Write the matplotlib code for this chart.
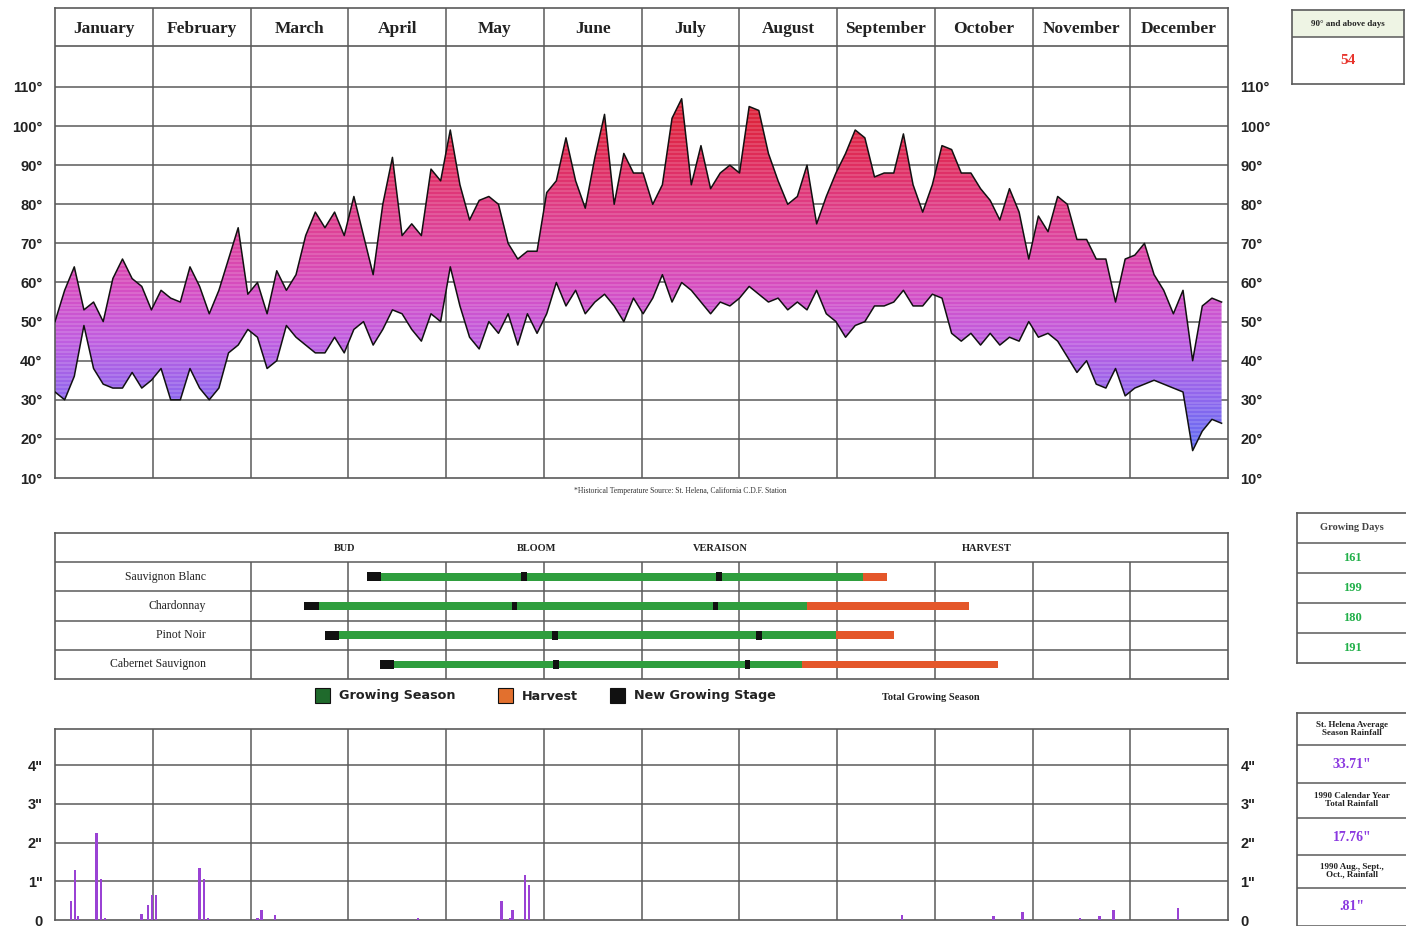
import numpy as np
import matplotlib.pyplot as plt
from matplotlib.colors import LinearSegmentedColormap
from matplotlib.patches import Rectangle

# ---- data ----
months = ['January', 'February', 'March', 'April', 'May', 'June', 'July',
          'August', 'September', 'October', 'November', 'December']

# daily max / min temperature, read every 3rd day of 1990
temp_days = np.arange(0, 366, 3)
high_temps = [50, 58, 64, 53, 55, 50, 61, 66, 61, 59, 53,
              58, 56, 55, 64, 59, 52, 58, 66, 74, 57,
              60, 52, 63, 58, 62, 72, 78, 74, 78, 72,
              82, 72, 62, 80, 92, 72, 75, 72, 89, 86,
              99, 85, 76, 81, 82, 80, 70, 66, 68, 68,
              83, 86, 97, 86, 79, 92, 103, 80, 93, 88,
              88, 80, 85, 102, 107, 85, 95, 84, 88, 90,
              88, 105, 104, 93, 86, 80, 82, 90, 75, 82,
              88, 93, 99, 97, 87, 88, 88, 98, 85, 78,
              85, 95, 94, 88, 88, 84, 81, 76, 84, 78,
              66, 77, 73, 82, 80, 71, 71, 66, 66, 55,
              66, 67, 70, 62, 58, 52, 58, 40, 54, 56, 55]
low_temps = [32, 30, 36, 49, 38, 34, 33, 33, 37, 33, 35,
             38, 30, 30, 38, 33, 30, 33, 42, 44, 48,
             46, 38, 40, 49, 46, 44, 42, 42, 46, 42,
             48, 50, 44, 48, 53, 52, 48, 45, 52, 50,
             64, 54, 46, 43, 50, 47, 52, 44, 52, 47,
             52, 60, 54, 58, 52, 55, 57, 54, 50, 56,
             52, 56, 62, 55, 60, 58, 55, 52, 55, 54,
             56, 59, 57, 55, 56, 53, 55, 53, 58, 52,
             50, 46, 49, 50, 54, 54, 55, 58, 54, 54,
             57, 56, 47, 45, 47, 44, 47, 44, 46, 45,
             50, 46, 47, 45, 41, 37, 40, 34, 33, 38,
             31, 33, 34, 35, 34, 33, 32, 17, 22, 25, 24]
temp_ticks = [10, 20, 30, 40, 50, 60, 70, 80, 90, 100, 110]

# growing stages (day of year)
varieties = ['Sauvignon Blanc', 'Chardonnay', 'Pinot Noir', 'Cabernet Sauvignon']
bud_break = [97, 77.5, 84, 101]
bloom = [146, 143, 155.5, 156]
veraison = [206.5, 205.5, 219, 215.5]
harvest_start = [251.5, 234, 243, 232.5]
harvest_end = [259, 284.5, 261, 293.5]
growing_days = [161, 199, 180, 191]
stages = ['BUD', 'BLOOM', 'VERAISON', 'HARVEST']
stage_days = [90, 150, 207, 290]

# daily rainfall (inches)
rain_days = [5, 6.2, 7.2, 13, 14.3, 15.6, 27, 29, 30.2, 31.4, 45, 46.4, 47.6,
             63, 64.2, 68.5, 113, 139, 141.6, 142.4, 146.2, 147.5,
             263.6, 292, 301, 319, 325, 329.3, 349.5]
rain_inches = [0.5, 1.3, 0.1, 2.25, 1.05, 0.05, 0.15, 0.4, 0.65, 0.65, 1.35, 1.05, 0.05,
               0.05, 0.25, 0.12, 0.05, 0.5, 0.05, 0.25, 1.15, 0.9,
               0.12, 0.1, 0.2, 0.05, 0.1, 0.25, 0.3]
rain_ticks = [0, 1, 2, 3, 4]

hot_days = 54
rain_titles = ['St. Helena Average\nSeason Rainfall',
               '1990 Calendar Year\nTotal Rainfall',
               '1990 Aug., Sept.,\nOct., Rainfall']
rain_totals = ['33.71"', '17.76"', '.81"']

# ---- layout ----
W, H = 1406, 926
fig = plt.figure(figsize=(W / 100, H / 100), dpi=100)
mw = 365 / 12
grid_c = '#5a5a5a'
serif = 'Liberation Serif'
sans = 'Liberation Sans'


def px_axes(x0, y0, x1, y1):
    return fig.add_axes([x0 / W, 1 - y1 / H, (x1 - x0) / W, (y1 - y0) / H])


def clean(a):
    a.tick_params(length=0)
    for s in a.spines.values():
        s.set_color(grid_c)
        s.set_linewidth(1.2)


# temperature chart
ax = px_axes(55, 8, 1228, 478)
ax.set_xlim(0, 365)
ax.set_ylim(10, 130.2)
clean(ax)
ax.set_xticks([])
ax.set_yticks(temp_ticks, labels=[f'{t}°' for t in temp_ticks])
ax.tick_params(labelright=True, pad=9)
for lab in ax.get_yticklabels():
    lab.set(family=sans, weight='bold', size=10.5, color='#222')
for t in temp_ticks[1:]:
    ax.axhline(t, color=grid_c, lw=1.1, zorder=1)
ax.axhline(120.5, color=grid_c, lw=1.2, zorder=1)
for k in range(1, 12):
    ax.axvline(k * mw, color=grid_c, lw=1.1, zorder=1)
for k, m in enumerate(months):
    ax.text((k + 0.5) * mw, 124.9, m, ha='center', va='center',
            family=serif, weight='bold', size=12.5, color='#222')

temp_cmap = LinearSegmentedColormap.from_list('temp', [
    (0.00, '#4f66f0'), (0.10, '#6a6cf2'), (0.22, '#9566ec'), (0.35, '#c05ee0'),
    (0.47, '#d450c6'), (0.58, '#dc46a6'), (0.70, '#df3c84'), (0.80, '#e02e60'),
    (0.90, '#de2642'), (1.00, '#dc2034')])
levels = np.linspace(0, 1, 400)
rgb = temp_cmap(levels)[:, :3]
stripe = (np.arange(400) // 2) % 2 == 0
rgb[stripe] = rgb[stripe] * 0.86 + 0.14
img = np.repeat(rgb[:, None, :], 2, axis=1)
im = ax.imshow(img, extent=(0, 365, 10, 110), origin='lower', aspect='auto',
               interpolation='nearest', zorder=2)
poly = ax.fill_between(temp_days, low_temps, high_temps, facecolor='none', edgecolor='none')
im.set_clip_path(poly.get_paths()[0], ax.transData)
ax.plot(temp_days, high_temps, color='#111', lw=1.1, zorder=3)
ax.plot(temp_days, low_temps, color='#111', lw=1.1, zorder=3)

fig.text(680 / W, 1 - 491 / H,
         '*Historical Temperature Source: St. Helena, California C.D.F. Station',
         ha='center', va='center', family=serif, size=5.5, color='#333')

# growing season table
tb = px_axes(55, 533, 1228, 679)
tb.set_xlim(0, 365)
tb.set_ylim(5, 0)
clean(tb)
tb.set_xticks([])
tb.set_yticks([])
for r in range(1, 5):
    tb.axhline(r, color=grid_c, lw=1.1, zorder=1)
tb.vlines([k * mw for k in range(2, 12)], 1, 5, color=grid_c, lw=1.1, zorder=1)
for name, d in zip(stages, stage_days):
    tb.text(d, 0.52, name, ha='center', va='center', family=serif,
            weight='bold', size=7.5, color='#222')
green, orange = '#2f9e3e', '#e4572a'
for i, name in enumerate(varieties):
    y = i + 1.5
    tb.text(47, y, name, ha='right', va='center', family=serif, size=8.5, color='#222')
    tb.barh(y, harvest_start[i] - bud_break[i], left=bud_break[i], height=0.26,
            color=green, zorder=3)
    tb.barh(y, harvest_end[i] - harvest_start[i], left=harvest_start[i], height=0.26,
            color=orange, zorder=3)
    tb.barh(y, 4.5, left=bud_break[i], height=0.3, color='#111', zorder=4)
    for d in (bloom[i], veraison[i]):
        tb.barh(y, 1.8, left=d - 0.9, height=0.3, color='#111', zorder=4)

# legend row
for x, c, label in [(315, '#1f6a2c', 'Growing Season'), (498, '#e2702e', 'Harvest'),
                    (610, '#111111', 'New Growing Stage')]:
    fig.add_artist(Rectangle((x / W, 1 - 703 / H), 15 / W, 15 / H,
                             transform=fig.transFigure, facecolor=c,
                             edgecolor='#111', lw=0.8))
    fig.text((x + 24) / W, 1 - 696 / H, label, ha='left', va='center',
             family='DejaVu Sans', weight='bold', size=9.2, color='#222')
fig.text(931 / W, 1 - 697 / H, 'Total Growing Season', ha='center', va='center',
         family=serif, weight='bold', size=7.5, color='#222')

# rainfall chart
ra = px_axes(55, 729, 1228, 920)
ra.set_xlim(0, 365)
ra.set_ylim(0, 4.93)
clean(ra)
ra.set_xticks([])
ra.set_yticks(rain_ticks, labels=['0', '1"', '2"', '3"', '4"'])
ra.tick_params(labelright=True, pad=9)
for lab in ra.get_yticklabels():
    lab.set(family=sans, weight='bold', size=10.5, color='#222')
for t in rain_ticks[1:]:
    ra.axhline(t, color=grid_c, lw=1.1, zorder=1)
for k in range(1, 12):
    ra.axvline(k * mw, color=grid_c, lw=1.1, zorder=1)
ra.bar(rain_days, rain_inches, width=0.8, color='#9a42d4', zorder=3)

# side boxes
def side_box(x0, y0, x1, y1):
    b = px_axes(x0, y0, x1, y1)
    b.set_xlim(0, x1 - x0)
    b.set_ylim(y1 - y0, 0)
    b.set_xticks([])
    b.set_yticks([])
    clean(b)
    return b


b1 = side_box(1292, 10, 1404, 84)
b1.add_patch(Rectangle((0, 0), 112, 27, facecolor='#eef4e4', edgecolor='none'))
b1.axhline(27, color=grid_c, lw=1.1)
b1.text(56, 14, '90° and above days', ha='center', va='center', family=serif,
        weight='bold', size=6.5, color='#222')
b1.text(56, 50, str(hot_days), ha='center', va='center', family=serif,
        weight='bold', size=11, color='#e8342c')

b2 = side_box(1297, 513, 1420, 663)
for r in (30, 60, 90, 120):
    b2.axhline(r, color=grid_c, lw=1.1)
b2.text(55, 15, 'Growing Days', ha='center', va='center', family=serif,
        weight='bold', size=7.5, color='#444')
for i, g in enumerate(growing_days):
    b2.text(55, 45 + 30 * i, str(g), ha='center', va='center', family=serif,
            weight='bold', size=9, color='#22b04a')

b3 = side_box(1297, 713, 1420, 945)
for r in (32, 70, 105, 142, 175, 213):
    b3.axhline(r, color=grid_c, lw=1.1)
for title, ty in zip(rain_titles, (16, 87, 158)):
    b3.text(55, ty, title, ha='center', va='center', family=serif, weight='bold',
            size=6.5, color='#222', linespacing=0.95)
for val, vy in zip(rain_totals, (51, 124, 194)):
    b3.text(55, vy, val, ha='center', va='center', family=serif, weight='bold',
            size=10, color='#8a38e0')

fig.savefig('out.png', dpi=100)
